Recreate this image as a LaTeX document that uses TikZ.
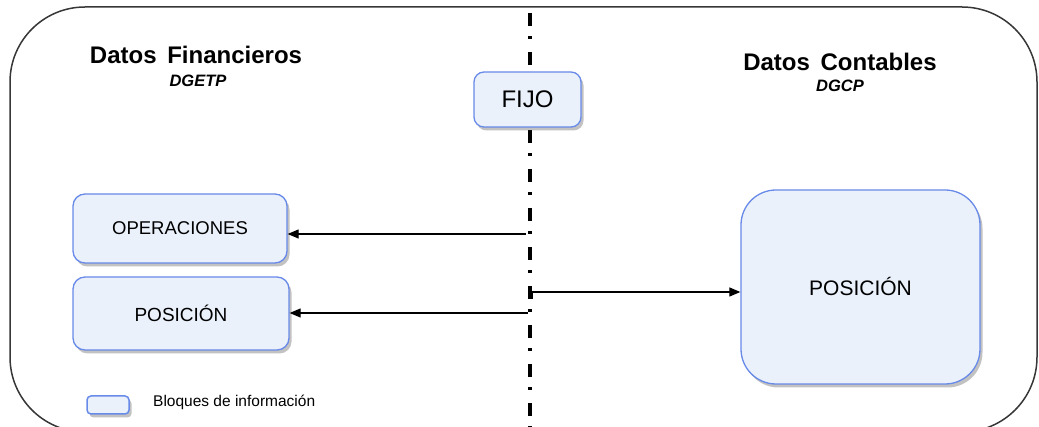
\documentclass[tikz,border=0pt]{standalone}
\usepackage{fontspec}
\setmainfont{Liberation Sans}
\usetikzlibrary{shadows,arrows.meta}
\definecolor{boxfill}{RGB}{234,241,251}
\definecolor{boxline}{RGB}{104,138,232}
\definecolor{framec}{RGB}{55,55,55}
\tikzset{
  infobox/.style={draw=boxline, fill=boxfill, line width=1.3pt, rectangle, inner sep=0pt,
    drop shadow={shadow xshift=2.5pt, shadow yshift=-3.5pt, opacity=0.4, fill=black!60}},
  conn/.style={draw=black, line width=1.2pt, -{Triangle[length=11pt,width=9pt]}},
  axisline/.style={draw=black, line width=3.3pt, dash pattern=on 13pt off 10.5pt on 3pt off 12.5pt},
  titletext/.style={font=\fontsize{24}{28}\selectfont\bfseries, anchor=base, inner sep=0pt},
  subtext/.style={font=\fontsize{16.5}{20}\selectfont\bfseries\itshape, anchor=base, inner sep=0pt},
}
\begin{document}
\begin{tikzpicture}[x=1pt,y=-1pt]
\useasboundingbox (0,0) rectangle (1039,427);
\clip (0,0) rectangle (1039,427);
% outer frame
\draw[framec, line width=1.5pt, rounded corners=75pt] (10,7) rectangle (1037,432);
% dash-dot separator
\coordinate (sTop) at (530,-26);
\coordinate (sBot) at (530,440);
\draw[axisline] (sTop) -- (sBot);
% titles
\node[titletext] (tf) at (196,64) {Datos\hspace{4pt} Financieros};
\node[subtext] (tfs) at (198,87) {DGETP};
\node[titletext] (tc) at (840,71) {Datos\hspace{4pt} Contables};
\node[subtext] (tcs) at (840,92) {DGCP};
% boxes
\node[infobox, rounded corners=10pt, minimum width=107pt, minimum height=55pt,
  font=\fontsize{24}{28}\selectfont] (fijo) at (527.5,99.5) {FIJO};
\node[infobox, rounded corners=12pt, minimum width=214pt, minimum height=69pt,
  font=\fontsize{18.5}{22}\selectfont] (op) at (180,228.5) {OPERACIONES};
\node[infobox, rounded corners=12pt, minimum width=216pt, minimum height=73pt,
  font=\fontsize{19}{22}\selectfont] (pl) at (181,313.5) {POSICIÓN};
\node[infobox, rounded corners=35pt, minimum width=239pt, minimum height=194pt,
  font=\fontsize{21}{24}\selectfont] (pr) at (860.5,287) {\raisebox{2pt}{POSICIÓN}};
% legend
\node[infobox, rounded corners=4pt, minimum width=42pt, minimum height=18pt, line width=1.5pt] (lg) at (108,405) {};
\node[font=\fontsize{15.5}{18}\selectfont, anchor=base west, inner sep=0pt] (lgt) at (153,407) {Bloques de información};
% connectors
\coordinate (a1) at (526,234);
\coordinate (a2) at (528,313);
\coordinate (a3) at (532,299);
\coordinate (a3y) at (0,292);
\draw[conn] (a1) -- (a1 -| op.east);
\draw[conn] (a2) -- (a2 -| pl.east);
\draw[conn] (a3) |- (pr.west |- a3y);
\end{tikzpicture}
\end{document}
